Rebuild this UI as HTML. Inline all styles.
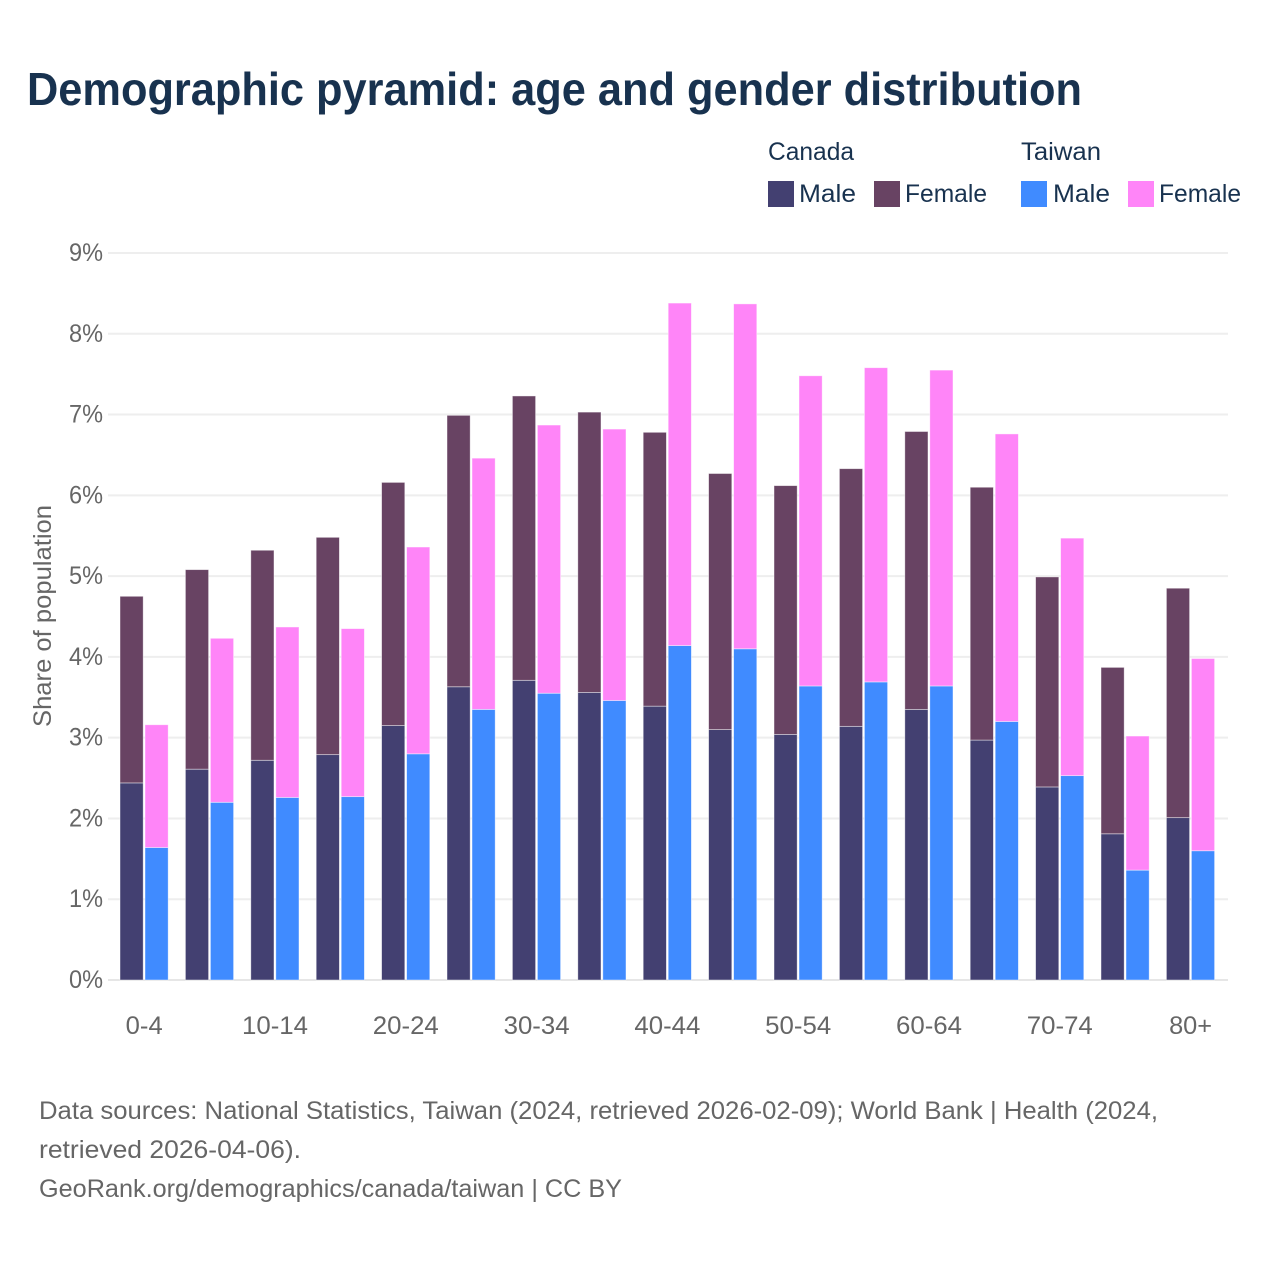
<!DOCTYPE html>
<html lang="en">
<head>
<meta charset="utf-8">
<title>Demographic pyramid</title>
<style>
html,body{margin:0;padding:0;background:#fff}
svg{display:block}
text{font-family:"Liberation Sans",sans-serif}
</style>
</head>
<body>
<svg id="chart" xmlns="http://www.w3.org/2000/svg" width="1280" height="1280" viewBox="0 0 1280 1280">
<rect width="1280" height="1280" fill="#fff"/>
<text x="27" y="105" font-size="46" font-weight="700" fill="#18324f" textLength="1055" lengthAdjust="spacingAndGlyphs">Demographic pyramid: age and gender distribution</text>

<g font-size="25" fill="#18324f">
<text x="768" y="160" textLength="86" lengthAdjust="spacingAndGlyphs">Canada</text>
<text x="1021" y="160" textLength="80" lengthAdjust="spacingAndGlyphs">Taiwan</text>
<rect x="768" y="181" width="26" height="26" fill="#434071"/>
<text x="799" y="202" textLength="57" lengthAdjust="spacingAndGlyphs">Male</text>
<rect x="874" y="181" width="26" height="26" fill="#684363"/>
<text x="905" y="202" textLength="82" lengthAdjust="spacingAndGlyphs">Female</text>
<rect x="1021" y="181" width="26" height="26" fill="#408bff"/>
<text x="1053" y="202" textLength="57" lengthAdjust="spacingAndGlyphs">Male</text>
<rect x="1128" y="181" width="26" height="26" fill="#ff85f8"/>
<text x="1159" y="202" textLength="82" lengthAdjust="spacingAndGlyphs">Female</text>
</g>

<g id="grid"></g>
<g id="yticks"></g>
<g id="bars"></g>
<g id="xticks"></g>

<text transform="translate(51,616) rotate(-90)" text-anchor="middle" font-size="25" fill="#666" textLength="222" lengthAdjust="spacingAndGlyphs">Share of population</text>

<g font-size="25" fill="#666">
<text x="39" y="1119" textLength="1119" lengthAdjust="spacingAndGlyphs">Data sources: National Statistics, Taiwan (2024, retrieved 2026-02-09); World Bank | Health (2024,</text>
<text x="39" y="1158" textLength="262" lengthAdjust="spacingAndGlyphs">retrieved 2026-04-06).</text>
<text x="39" y="1197" textLength="583" lengthAdjust="spacingAndGlyphs">GeoRank.org/demographics/canada/taiwan | CC BY</text>
</g>
</svg>
<script>
const ageGroups = ["0-4","5-9","10-14","15-19","20-24","25-29","30-34","35-39","40-44","45-49","50-54","55-59","60-64","65-69","70-74","75-79","80+"];
const shownAgeLabels = ["0-4","10-14","20-24","30-34","40-44","50-54","60-64","70-74","80+"];
const canadaMale = [2.44,2.61,2.72,2.79,3.15,3.63,3.71,3.56,3.39,3.10,3.04,3.14,3.35,2.97,2.39,1.81,2.01];
const canadaFemale = [2.31,2.47,2.60,2.69,3.01,3.36,3.52,3.47,3.39,3.17,3.08,3.19,3.44,3.13,2.60,2.06,2.84];
const taiwanMale = [1.64,2.20,2.26,2.27,2.80,3.35,3.55,3.46,4.14,4.10,3.64,3.69,3.64,3.20,2.53,1.36,1.60];
const taiwanFemale = [1.52,2.03,2.11,2.08,2.56,3.11,3.32,3.36,4.24,4.27,3.84,3.89,3.91,3.56,2.94,1.66,2.38];
const yTickValues = [0,1,2,3,4,5,6,7,8,9];

const NS = "http://www.w3.org/2000/svg";
const yScale = v => 980 - v * 80.78;
const groupCenter = i => 144.2 + i * 65.4;

function make(tag, attrs, parent, txt) {
  const el = document.createElementNS(NS, tag);
  for (const k in attrs) el.setAttribute(k, attrs[k]);
  if (txt !== undefined) el.textContent = txt;
  parent.appendChild(el);
  return el;
}

const grid = document.getElementById("grid");
const yticks = document.getElementById("yticks");
yTickValues.forEach(v => {
  const line = make("line", {x1:108, x2:1228, y1:yScale(v), y2:yScale(v), stroke: v === 0 ? "#e6e6e6" : "#eeeeee", "stroke-width":2}, grid);
  
  
  const label = make("text", {x:103, y:yScale(v)+8, "text-anchor":"end", "font-size":25, fill:"#666", textLength:34, lengthAdjust:"spacingAndGlyphs"}, yticks, v + "%");
  
  
});

const barsGroup = document.getElementById("bars");
function drawBar(x, base, value, color) {
  const top = yScale(base + value);
  const bottom = yScale(base);
  const bar = make("rect", {x:x, y:top, width:23.2, height:bottom-top, fill:color, stroke:"#fff", "stroke-opacity":0.55, "stroke-width":0.8}, barsGroup);
  
  
}
ageGroups.forEach((g, i) => {
  const c = groupCenter(i);
  drawBar(c - 24.2, 0, canadaMale[i], "#434071");
  drawBar(c - 24.2, canadaMale[i], canadaFemale[i], "#684363");
  drawBar(c + 0.8, 0, taiwanMale[i], "#408bff");
  drawBar(c + 0.8, taiwanMale[i], taiwanFemale[i], "#ff85f8");
});

const xticks = document.getElementById("xticks");
ageGroups.forEach((g, i) => {
  if (!shownAgeLabels.includes(g)) return;
  const w = g.length === 3 && g !== "80+" ? 37 : (g === "80+" ? 43 : 66);
  const label = make("text", {x:groupCenter(i), y:1034, "text-anchor":"middle", "font-size":25, fill:"#666", textLength:w, lengthAdjust:"spacingAndGlyphs"}, xticks, g);
  
  
});
</script>
</body>
</html>
